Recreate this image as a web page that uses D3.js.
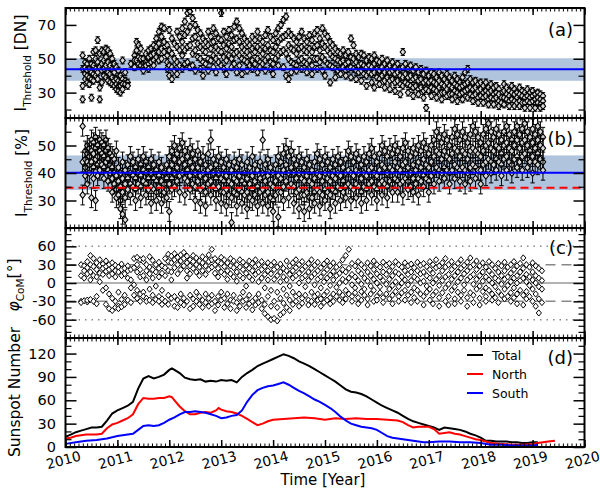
<!DOCTYPE html>
<html><head><meta charset="utf-8">
<script src="https://cdn.jsdelivr.net/npm/d3@7"></script>
<style>body{margin:0;background:#fff} svg{display:block;font-family:"DejaVu Sans",sans-serif}</style>
</head><body><svg id="c" width="600" height="492"></svg>
<script>
// ---------- DATA ----------
const yearLabels = [2010,2011,2012,2013,2014,2015,2016,2017,2018,2019,2020];
const panelNames = ["(a)","(b)","(c)","(d)"];

// (a) I_Threshold [DN]: [time, values...]
const threshDN = [
[2010.33,52,34,26,44],[2010.38,45,41,38,48],[2010.42,47,43,36,40],[2010.46,44,39,50,35],[2010.50,47,42,38,27],
[2010.54,54,46,41,37],[2010.58,50,44,40,55],[2010.62,61,48,42,38],[2010.66,53,45,33,26],[2010.70,55,47,43,36],
[2010.74,54,49,44,40],[2010.78,56,51,46,39],[2010.82,55,48,42,37],[2010.86,53,46,41,36],[2010.90,50,44,39,35],
[2010.94,47,42,37,34],[2010.98,45,38,35,32],[2011.02,43,37,33,31],[2011.06,40,36,34,30],[2011.10,49,38,35,32],
[2011.15,42,37,35],[2011.20,36,34],[2011.26,47],[2011.33,52,49,45],[2011.37,60,55,49],[2011.41,58,51,47],
[2011.45,56,50,46],[2011.50,50,47,45,43],[2011.55,53,48,46],[2011.60,55,51,47,44],[2011.65,56,52,48],
[2011.70,58,53,49,46],[2011.75,62,57,51],[2011.80,66,59,54,49],[2011.85,69,63,56,50],[2011.90,68,60,54],
[2011.96,58,52,48,44],[2012.00,67,55,46,40],[2012.05,62,53,45,38],[2012.10,59,50,43],[2012.15,66,57,48,41],
[2012.20,63,55,46],[2012.25,68,60,52,44],[2012.30,72,64,55,47],[2012.35,77,66,57,48],[2012.40,78,69,58,45],
[2012.45,74,62,53,46],[2012.50,70,63,55,43],[2012.55,67,59,51],[2012.60,65,57,50,44],[2012.65,62,55,48,40],
[2012.70,60,54,47],[2012.75,66,58,50,43],[2012.80,63,56,49],[2012.85,68,60,52,45],[2012.90,65,57,50,42],
[2012.95,62,55,48],[2013.00,77,61,54,46],[2013.05,66,58,51,44],[2013.10,63,56,49,41],[2013.15,67,59,52],
[2013.20,64,57,50,45],[2013.25,69,61,53,47],[2013.30,72,62,54,42],[2013.35,68,60,52,46],[2013.40,65,57,50,41],
[2013.45,62,55,49],[2013.50,60,54,48,43],[2013.55,58,52,46],[2013.60,63,56,49,44],[2013.65,61,54,47],
[2013.70,66,57,50,42],[2013.75,62,55,48,45],[2013.80,60,53,47],[2013.85,64,56,49,43],[2013.90,67,58,51],
[2013.95,63,55,48,44],[2014.00,61,54,47,41],[2014.05,65,57,50],[2014.10,68,60,52,46],[2014.15,70,62,54],
[2014.20,73,63,55,45],[2014.25,75,64,53,40],[2014.30,66,58,50,38],[2014.35,64,56,48,42],[2014.40,62,55,47],
[2014.45,60,53,46,43],[2014.50,63,56,49],[2014.55,66,57,50,44],[2014.60,62,55,48],[2014.65,60,54,47,42],
[2014.70,64,56,49],[2014.75,61,54,46,41],[2014.80,65,57,50],[2014.85,67,58,50,44],[2014.90,62,55,48],
[2014.95,68,59,51,43],[2015.00,65,57,49,40],[2015.05,63,55,47],[2015.10,60,53,46,36],[2015.15,58,51,45],
[2015.20,56,50,44,39],[2015.25,54,49,43],[2015.30,53,48,44,41],[2015.35,55,49,45],[2015.40,52,47,43,40],
[2015.45,54,48,44],[2015.50,62,51,45,39],[2015.55,58,50,44],[2015.60,53,48,43,38],[2015.65,51,46,42],
[2015.70,53,47,43,37],[2015.75,52,46,41],[2015.80,49,45,40,34],[2015.85,51,46,42],[2015.90,50,45,41,36],
[2015.95,52,47,42,33],[2016.00,49,44,39],[2016.05,48,43,38,35],[2016.10,50,45,40],[2016.15,47,42,37,33],
[2016.20,49,44,39],[2016.25,46,42,37,32],[2016.30,48,43,38],[2016.35,45,41,36,31],[2016.40,47,42,37],
[2016.45,44,40,35,29],[2016.50,54,45,39,34],[2016.55,47,41,36],[2016.60,44,39,35,30],[2016.65,46,40,34],
[2016.70,43,38,33,28],[2016.75,45,39,34],[2016.80,42,37,32,29],[2016.85,44,38,33],[2016.90,41,36,31,27],
[2016.95,43,37,32,21],[2017.00,40,36,31],[2017.05,42,37,33,28],[2017.10,41,36,32],[2017.15,39,35,31,27],
[2017.20,42,37,33],[2017.25,40,35,30,26],[2017.30,38,34,30],[2017.35,41,36,32,28],[2017.40,39,34,29],
[2017.45,37,33,29,26],[2017.50,40,35,31],[2017.55,38,34,30,25],[2017.60,36,33,29],[2017.65,39,34,30,26],
[2017.70,42,35,31],[2017.75,44,36,32,27],[2017.80,38,33,29],[2017.85,36,32,28,25],[2017.90,37,33,29],
[2017.95,35,31,27,24],[2018.00,36,32,28],[2018.05,34,30,27,24],[2018.10,36,31,28],[2018.15,33,30,26,23],
[2018.20,35,31,27],[2018.25,33,29,26,23],[2018.30,34,30,27],[2018.35,32,29,25,22],[2018.40,27,24],
[2018.45,35,31,27,23],[2018.50,33,29,26],[2018.55,31,28,25,22],[2018.60,34,30,26],[2018.65,32,29,25,22],
[2018.70,30,27,24],[2018.75,33,29,25,22],[2018.80,31,28,24],[2018.85,30,27,24,21],[2018.90,32,28,25],
[2018.95,30,27,24,21],[2019.00,31,28,25],[2019.05,29,26,23,21],[2019.10,30,27,24],[2019.15,29,26,23,21],
[2019.20,28,25,22]
];
const errDN = 2;
const meanDN = 43.8, bandDN = [37.0, 50.3];

// (b) I_Threshold [%]
const threshPct = [
[2010.33,57,32,44],[2010.38,48,45,42,39],[2010.42,50,47,44,36],[2010.46,49,46,43,40],[2010.50,52,48,44,31],
[2010.54,51,47,42,38],[2010.58,53,49,45,30],[2010.62,50,46,43,39],[2010.66,52,48,44,41],[2010.70,51,47,43],
[2010.74,50,46,42,38],[2010.78,52,48,44],[2010.82,49,45,41,37],[2010.86,47,43,40],[2010.90,46,42,38,33],
[2010.94,45,40,36],[2010.98,48,39,34,31],[2011.02,42,37,32],[2011.06,40,35,30,27],[2011.10,44,38,33,25],
[2011.15,41,36,31,23],[2011.20,43,38,34],[2011.25,46,40,36,32],[2011.30,44,39,35],[2011.35,42,38,34,30],
[2011.40,45,40,36],[2011.45,43,39,35,31],[2011.50,46,41,37],[2011.55,44,40,36,32],[2011.60,42,38,34],
[2011.65,45,40,35,29],[2011.70,43,38,34],[2011.75,41,37,33,30],[2011.80,44,39,35],[2011.85,42,37,32,29],
[2011.90,40,36,33],[2011.95,43,38,34,31],[2012.00,46,41,36,26],[2012.05,48,43,38,34],[2012.10,50,45,40,35],
[2012.15,47,42,37],[2012.20,49,44,39,33],[2012.25,51,45,40],[2012.30,48,43,38,32],[2012.35,46,41,37],
[2012.40,49,44,39,34],[2012.45,47,42,36],[2012.50,45,40,35,30],[2012.55,48,42,37],[2012.60,44,39,34,29],
[2012.65,46,40,35],[2012.70,43,38,33,28],[2012.75,47,41,36],[2012.80,52,42,37,32],[2012.85,45,40,35],
[2012.90,43,38,34,30],[2012.95,46,40,35],[2013.00,44,38,33,29],[2013.05,42,37,33],[2013.10,45,39,34,28],
[2013.15,43,37,32],[2013.20,41,36,31,22],[2013.25,44,38,33],[2013.30,42,37,32,28],[2013.35,45,39,34],
[2013.40,43,37,33,29],[2013.45,40,36,32],[2013.50,44,38,33,27],[2013.55,42,36,31],[2013.60,46,39,34,30],
[2013.65,43,37,32],[2013.70,41,35,31,28],[2013.75,44,38,33],[2013.80,52,40,34,29],[2013.85,43,37,32],
[2013.90,45,39,33,28],[2013.95,42,36,31],[2014.00,40,35,30,26],[2014.05,43,37,32],[2014.10,46,39,33,24],
[2014.15,44,38,33],[2014.20,47,41,35,30],[2014.25,49,43,37],[2014.30,46,40,35,31],[2014.35,48,42,36],
[2014.40,45,40,35,29],[2014.45,43,38,33],[2014.50,46,40,34,27],[2014.55,44,38,32],[2014.60,42,37,32,26],
[2014.65,45,39,33],[2014.70,43,37,31,27],[2014.75,41,36,31],[2014.80,44,38,33,29],[2014.85,47,40,34],
[2014.90,45,39,33,28],[2014.95,43,37,32],[2015.00,46,40,34,30],[2015.05,44,38,33],[2015.10,42,37,32,27],
[2015.15,45,39,34],[2015.20,43,38,33,29],[2015.25,46,40,35],[2015.30,44,39,34,30],[2015.35,42,37,33],
[2015.40,45,40,35,31],[2015.45,48,41,36],[2015.50,46,40,35,30],[2015.55,44,39,34],[2015.60,47,41,36,31],
[2015.65,45,40,35],[2015.70,43,38,33,29],[2015.75,46,40,35],[2015.80,44,39,34,30],[2015.85,47,41,36],
[2015.90,49,42,37,32],[2015.95,46,40,35],[2016.00,44,39,34,30],[2016.05,47,41,36],[2016.10,50,43,37,32],
[2016.15,48,42,36],[2016.20,46,40,35,31],[2016.25,49,42,37],[2016.30,47,41,36,33],[2016.35,50,44,38],
[2016.40,48,42,37,33],[2016.45,46,41,36],[2016.50,49,43,37,32],[2016.55,51,44,38],[2016.60,48,42,37,34],
[2016.65,46,40,35],[2016.70,49,43,38,33],[2016.75,47,41,36],[2016.80,50,44,38,32],[2016.85,48,42,37],
[2016.90,51,45,39,35],[2016.95,49,43,38],[2017.00,47,42,37,33],[2017.05,50,44,39],[2017.10,52,46,40,36],
[2017.15,55,48,42],[2017.20,53,47,41,37],[2017.25,51,45,40],[2017.30,54,48,42,38],[2017.35,52,46,41],
[2017.40,50,45,40,36],[2017.45,53,47,41],[2017.50,56,49,43,38],[2017.55,54,48,42],[2017.60,52,46,41,37],
[2017.65,55,48,42],[2017.70,53,47,41,36],[2017.75,51,45,40],[2017.80,54,48,42,37],[2017.85,57,49,43],
[2017.90,55,48,42,38],[2017.95,53,47,41],[2018.00,51,46,41,36],[2018.05,54,48,43],[2018.10,56,50,44,39],
[2018.15,58,51,45],[2018.20,55,49,44,40],[2018.25,53,48,43],[2018.30,56,50,45,41],[2018.35,54,49,44],
[2018.40,52,47,43,39],[2018.45,55,50,45],[2018.50,57,51,46,41],[2018.55,54,49,44],[2018.60,52,48,43,40],
[2018.65,55,50,45],[2018.70,57,52,46,42],[2018.75,54,49,44],[2018.80,56,51,46,41],[2018.85,58,52,47],
[2018.90,55,50,45,42],[2018.95,53,48,44],[2019.00,56,51,46,40],[2019.05,54,49,44],[2019.10,57,52,47,43],
[2019.15,55,50,45],[2019.20,53,49,44,41]
];
const errPct = 3.6;
const meanPct = 40.1, bandPct = [33.8, 46.4], refPct = 34.6;

// (c) phi_CoM [deg]
const phiCoM = [
[2010.30,30,12,-30,-32],[2010.36,28,20,8,-29],[2010.42,35,25,15,-31,-28],[2010.48,45,30,18,5,-27],[2010.54,40,27,12,-30],
[2010.60,33,22,10,-22,-34],[2010.66,38,29,16,2],[2010.72,31,24,14,-12],[2010.78,36,27,19,-8,-35],[2010.84,30,22,12,-18,-42],
[2010.90,33,25,15,-25,-45],[2010.96,29,20,10,-30,-40],[2011.02,26,18,-15,-38,-42],[2011.08,31,22,12,-27,-39],[2011.14,24,15,-20,-35],
[2011.20,28,20,8,-28],[2011.26,22,5,-8,-32],[2011.32,40,25,-3,-20],[2011.38,42,30,18,-12,-25],[2011.44,38,22,10,-18,-30],
[2011.50,35,40,12,-15,-22],[2011.56,30,20,5,-25,-30],[2011.62,43,26,15,-10,-28],[2011.68,37,22,8,-20,-32],[2011.74,30,18,-5,-27],
[2011.80,34,24,10,-22,-30],[2011.86,28,16,-12,-26,-35],[2011.92,40,25,12,-30],[2011.98,47,35,20,-20,-35],[2012.04,44,33,18,5,-25],
[2012.10,48,38,25,-22,-38],[2012.16,42,30,15,-28,-40],[2012.22,46,36,22,-18,-32],[2012.28,50,40,28,-25,-36],[2012.34,44,33,20,8,-30],
[2012.40,38,28,15,-20,-42],[2012.46,45,35,24,-26,-38],[2012.52,41,30,18,-15,-30],[2012.58,36,26,12,-22,-35],[2012.64,43,33,20,-28,-40],
[2012.70,39,28,14,-18,-32],[2012.76,46,35,22,-25,-38],[2012.82,55,38,26,-20,-34],[2012.88,40,30,16,-30,-45],[2012.94,35,24,10,-22,-36],
[2013.00,42,32,18,-15,-28],[2013.06,38,27,14,-25,-40],[2013.12,33,20,6,-18,-34],[2013.18,40,28,15,-28,-42],[2013.24,36,25,10,-20,-30],
[2013.30,30,18,3,-32,-45],[2013.36,38,26,12,-24,-38],[2013.42,34,22,8,-15,-30],[2013.48,29,16,-5,-27,-40],[2013.54,36,24,10,-20,-34],
[2013.60,32,20,5,-30,-44],[2013.66,38,27,14,-25,-36],[2013.72,30,18,2,-18,-32],[2013.78,35,22,8,-28,-42],[2013.84,27,14,-8,-35,-50],
[2013.90,33,20,5,-22,-55],[2013.96,29,15,-12,-38,-60],[2014.02,34,22,6,-30,-58],[2014.08,26,12,-15,-40,-62],[2014.14,31,18,2,-25,-52],
[2014.20,24,10,-10,-33,-48],[2014.26,36,20,5,-20,-40],[2014.32,28,14,-5,-28,-45],[2014.38,33,20,8,-15,-35],[2014.44,38,25,12,-22,-30],
[2014.50,30,16,0,-18,-38],[2014.56,35,22,8,-25,-33],[2014.62,27,12,-6,-20],[2014.68,32,18,4,-28,-36],[2014.74,38,24,10,-15,-30],
[2014.80,29,15,-3,-22,-35],[2014.86,34,20,6,-18,-28],[2014.92,25,10,-8,-26,-38],[2014.98,31,17,2,-20,-32],[2015.04,36,22,8,-14,-28],
[2015.10,28,13,-4,-24,-34],[2015.16,33,19,5,-18,-30],[2015.22,26,12,-7,-22],[2015.28,30,16,0,-15,-28],[2015.34,38,22,6,-20,-32],
[2015.40,45,18,2,-12,-26],[2015.46,55,24,8,-18],[2015.52,32,14,-3,-22,-30],[2015.58,28,10,-8,-16],[2015.64,35,20,4,-24,-34],
[2015.70,30,15,-2,-14,-28],[2015.76,25,8,-10,-20],[2015.82,33,18,3,-26,-36],[2015.88,28,12,-5,-18],[2015.94,36,22,6,-12,-30],
[2016.00,30,15,0,-22,-28],[2016.06,26,10,-6,-16],[2016.12,34,18,4,-24,-32],[2016.18,29,14,-2,-18],[2016.24,32,20,6,-10,-26],
[2016.30,27,12,-4,-20,-34],[2016.36,35,18,2,-14],[2016.42,30,15,-6,-22,-30],[2016.48,26,10,0,-16],[2016.54,33,20,5,-12,-28],
[2016.60,28,14,-3,-20],[2016.66,31,18,4,-15,-32],[2016.72,25,10,-8,-24],[2016.78,34,20,6,-12,-30],[2016.84,29,15,0,-18],
[2016.90,32,18,3,-22,-36],[2016.96,27,12,-5,-15],[2017.02,35,22,8,-10,-28],[2017.08,30,16,0,-20,-34],[2017.14,38,25,6,-14],
[2017.20,28,12,-4,-24,-38],[2017.26,33,20,4,-16],[2017.32,40,26,10,-8,-30],[2017.38,30,14,-2,-22,-36],[2017.44,35,22,6,-12],
[2017.50,27,12,-6,-26,-34],[2017.56,32,18,2,-15],[2017.62,38,24,8,-20,-30],[2017.68,29,15,-3,-12],[2017.74,34,20,5,-24,-38],
[2017.80,41,26,10,-16],[2017.86,30,14,-2,-20,-32],[2017.92,36,22,6,-10],[2017.98,28,12,-5,-25,-36],[2018.04,33,18,3,-14],
[2018.10,26,10,-8,-22,-30],[2018.16,35,20,5,-12],[2018.22,30,14,0,-18,-28],[2018.28,24,8,-6,-24],[2018.34,32,18,4,-14,-32],
[2018.40,28,12,-2,-20],[2018.46,34,20,6,-10,-26],[2018.52,26,10,-4,-22],[2018.58,30,16,2,-16,-30],[2018.64,35,22,8,-8,-24],
[2018.70,28,12,0,-18,-34],[2018.76,32,18,4,-12],[2018.82,41,24,8,-20,-36],[2018.88,30,14,2,-14,-26],[2018.94,26,10,-4,-22],
[2019.00,33,18,5,-10,-30],[2019.06,28,12,0,-18,-38],[2019.12,24,8,-6,-26,-49],[2019.18,20,4,-10,-32]
];
const phiRefLines = {dotted:[-60,60], dashed:[-30,30], solid:[0]};

// (d) Sunspot numbers [time, value]
const ssnTotal = [[2010.0,13],[2010.1,16],[2010.2,19],[2010.3,21],[2010.4,23],[2010.5,25],[2010.6,25],[2010.7,26],[2010.8,34],[2010.9,43],
[2011.0,47],[2011.1,50],[2011.2,53],[2011.3,58],[2011.4,75],[2011.5,88],[2011.6,91],[2011.7,88],[2011.8,90],[2011.9,93],[2012.0,99],[2012.05,101],
[2012.1,99],[2012.2,95],[2012.3,89],[2012.4,87],[2012.5,86],[2012.6,87],[2012.7,84],[2012.8,85],[2012.9,84],[2013.0,86],[2013.1,85],[2013.2,86],
[2013.3,83],[2013.4,90],[2013.5,95],[2013.6,99],[2013.7,104],[2013.8,107],[2013.9,110],[2014.0,113],[2014.1,116],[2014.2,119],[2014.3,117],
[2014.4,114],[2014.5,110],[2014.6,107],[2014.7,104],[2014.8,100],[2014.9,96],[2015.0,92],[2015.1,88],[2015.2,84],[2015.3,79],[2015.4,74],
[2015.5,71],[2015.6,70],[2015.7,68],[2015.8,65],[2015.9,61],[2016.0,57],[2016.1,53],[2016.2,50],[2016.3,47],[2016.4,44],[2016.5,40],
[2016.6,36],[2016.7,33],[2016.8,31],[2016.9,29],[2017.0,27],[2017.1,25],[2017.2,22],[2017.3,25],[2017.4,24],[2017.5,23],[2017.6,22],
[2017.7,20],[2017.8,17],[2017.9,15],[2018.0,12],[2018.1,8],[2018.2,8],[2018.3,7],[2018.4,7],[2018.5,7],[2018.6,6],[2018.7,6],[2018.8,5],
[2018.9,5],[2019.0,6],[2019.1,6]];
const ssnNorth = [[2010.0,11],[2010.1,12],[2010.2,14],[2010.3,15],[2010.4,16],[2010.5,16],[2010.6,16],[2010.7,17],[2010.8,24],[2010.9,29],
[2011.0,31],[2011.1,34],[2011.2,37],[2011.3,42],[2011.4,55],[2011.5,63],[2011.6,62],[2011.7,62],[2011.8,63],[2011.9,63],[2012.0,65],[2012.05,64],
[2012.1,60],[2012.2,52],[2012.3,46],[2012.4,42],[2012.5,42],[2012.6,44],[2012.7,45],[2012.8,44],[2012.9,47],[2012.95,50],[2013.0,48],[2013.1,46],
[2013.2,45],[2013.3,43],[2013.4,40],[2013.5,36],[2013.6,32],[2013.7,28],[2013.8,30],[2013.9,33],[2014.0,35],[2014.2,36],[2014.4,37],[2014.6,38],
[2014.8,37],[2015.0,35],[2015.2,37],[2015.4,36],[2015.6,37],[2015.8,36],[2016.0,36],[2016.2,35],[2016.4,34],[2016.5,32],[2016.6,28],[2016.7,25],
[2016.8,26],[2017.0,26],[2017.1,23],[2017.2,17],[2017.3,18],[2017.4,19],[2017.5,17],[2017.6,16],[2017.7,14],[2017.8,12],[2017.9,10],[2018.0,9],
[2018.1,7],[2018.2,5],[2018.4,4],[2018.6,3],[2018.8,3],[2019.0,4],[2019.1,5],[2019.2,6],[2019.3,7],[2019.43,8]];
const ssnSouth = [[2010.0,4],[2010.2,6],[2010.4,8],[2010.6,9],[2010.8,11],[2011.0,14],[2011.2,16],[2011.3,17],[2011.4,22],[2011.5,27],[2011.6,28],
[2011.7,27],[2011.8,28],[2011.9,31],[2012.0,35],[2012.1,38],[2012.2,42],[2012.3,45],[2012.4,45],[2012.5,46],[2012.6,45],[2012.7,44],[2012.8,42],
[2012.9,40],[2013.0,37],[2013.1,38],[2013.2,40],[2013.3,41],[2013.4,47],[2013.5,58],[2013.6,67],[2013.7,73],[2013.8,76],[2013.9,78],[2014.0,79],
[2014.1,81],[2014.2,83],[2014.3,80],[2014.4,76],[2014.5,72],[2014.6,69],[2014.7,65],[2014.8,61],[2014.9,58],[2015.0,54],[2015.1,50],[2015.2,45],
[2015.3,39],[2015.4,34],[2015.5,30],[2015.6,28],[2015.7,26],[2015.8,25],[2015.9,24],[2016.0,22],[2016.1,18],[2016.2,14],[2016.3,12],[2016.4,11],
[2016.5,10],[2016.6,9],[2016.7,8],[2016.8,7],[2016.9,6],[2017.0,6],[2017.2,7],[2017.4,7],[2017.6,6],[2017.8,6],[2018.0,5],[2018.2,3],[2018.4,3],
[2018.6,2],[2018.8,2],[2019.0,2],[2019.1,3]];
const legendNames = ["Total","North","South"];
const legendColors = ["#000000","#ff0000","#0000ff"];

// ---------- LAYOUT ----------
const svg = d3.select("#c");
const X0 = 65.5, X1 = 584.5;
const x = d3.scaleLinear().domain([2010,2020]).range([X0,X1]);
const panels = [
 {top:8,   bot:118, dom:[15,80],  major:[30,50,70], minor:[20,40,60,80]},
 {top:118, bot:228, dom:[20,60],  major:[30,40,50], minor:[20,25,35,45,55,60]},
 {top:228, bot:338, dom:[-90,90], major:[-60,-30,0,30,60], minor:[-90,-80,-70,-50,-40,-20,-10,10,20,40,50,70,80,90]},
 {top:338, bot:447, dom:[0,140],  major:[0,30,60,90,120], minor:[10,20,40,50,70,80,100,110,130,140]}
];
panels.forEach(p => p.y = d3.scaleLinear().domain(p.dom).range([p.bot, p.top]));
const [pa,pb,pc,pd] = panels;

const defs = svg.append("defs");
panels.forEach((p,i) => defs.append("clipPath").attr("id","clip"+i)
  .append("rect").attr("x",X0).attr("y",p.top).attr("width",X1-X0).attr("height",p.bot-p.top));

function diamond(cx, cy, hw, hh){ return `M${cx},${cy-hh}L${cx+hw},${cy}L${cx},${cy+hh}L${cx-hw},${cy}Z`; }
const flat = rows => rows.flatMap(r => r.slice(1).map(v => ({t:r[0], v})));

// ---------- (a) & (b) ----------
function errPanel(p, idx, rows, err, mean, band, ref){
  const g = svg.append("g").attr("clip-path",`url(#clip${idx})`);
  g.append("rect").attr("x",X0).attr("width",X1-X0)
   .attr("y",p.y(band[1])).attr("height",p.y(band[0])-p.y(band[1])).attr("fill","#b0c4de");
  const pts = flat(rows);
  const pg = g.append("g");
  pts.forEach(d => {
    const cx = x(d.t), cy = p.y(d.v), y1 = p.y(d.v+err), y2 = p.y(d.v-err);
    pg.append("path").attr("d",`M${cx},${y1}V${y2}M${cx-2.2},${y1}H${cx+2.2}M${cx-2.2},${y2}H${cx+2.2}`)
      .attr("stroke","#000").attr("stroke-width",1).attr("fill","none");
    pg.append("path").attr("d",diamond(cx,cy,2.7,3.3)).attr("fill","#d8d8d8").attr("stroke","#000").attr("stroke-width",1.1);
  });
  g.append("line").attr("x1",X0).attr("x2",X1).attr("y1",p.y(mean)).attr("y2",p.y(mean))
   .attr("stroke","#0000ff").attr("stroke-width",2);
  if (ref!=null) g.append("line").attr("x1",X0).attr("x2",X1).attr("y1",p.y(ref)).attr("y2",p.y(ref))
   .attr("stroke","#ff0000").attr("stroke-width",2).attr("stroke-dasharray","8,5");
}
errPanel(pa,0,threshDN,errDN,meanDN,bandDN,null);
errPanel(pb,1,threshPct,errPct,meanPct,bandPct,refPct);

// ---------- (c) ----------
{
  const g = svg.append("g").attr("clip-path","url(#clip2)");
  phiRefLines.dotted.forEach(v => g.append("line").attr("x1",X0).attr("x2",X1).attr("y1",pc.y(v)).attr("y2",pc.y(v))
    .attr("stroke","#888").attr("stroke-width",1.5).attr("stroke-dasharray","1.5,5"));
  phiRefLines.dashed.forEach(v => g.append("line").attr("x1",X0).attr("x2",X1).attr("y1",pc.y(v)).attr("y2",pc.y(v))
    .attr("stroke","#888").attr("stroke-width",1.5).attr("stroke-dasharray","10,6"));
  phiRefLines.solid.forEach(v => g.append("line").attr("x1",X0).attr("x2",X1).attr("y1",pc.y(v)).attr("y2",pc.y(v))
    .attr("stroke","#999").attr("stroke-width",1.5));
  flat(phiCoM).forEach(d => g.append("path").attr("d",diamond(x(d.t),pc.y(d.v),2.6,3.1))
    .attr("fill","#fff").attr("stroke","#000").attr("stroke-width",1));
}

// ---------- (d) ----------
{
  const g = svg.append("g").attr("clip-path","url(#clip3)");
  const line = d3.line().x(d=>x(d[0])).y(d=>pd.y(d[1]));
  [ssnTotal, ssnNorth, ssnSouth].forEach((s,i) => g.append("path").attr("d",line(s))
     .attr("fill","none").attr("stroke",legendColors[i]).attr("stroke-width",2));
  legendNames.forEach((n,i) => {
    const ly = 355 + i*19;
    svg.append("line").attr("x1",467).attr("x2",483).attr("y1",ly).attr("y2",ly).attr("stroke",legendColors[i]).attr("stroke-width",2);
    svg.append("text").attr("x",492).attr("y",ly+4.5).attr("font-size",12.5).text(n);
  });
}

// ---------- axes / frames ----------
const monthTicks = d3.range(0,121).map(i => 2010 + i/12);
panels.forEach((p,i) => {
  const xt = (ax, yy, vals, len, w) => {
    const a = svg.append("g").attr("transform",`translate(0,${yy})`)
      .call(ax(x).tickValues(vals).tickSize(-len).tickFormat(""));
    a.select(".domain").remove(); a.selectAll("line").attr("stroke-width",w);
  };
  xt(d3.axisTop, p.top, monthTicks, 3.5, 1); xt(d3.axisBottom, p.bot, monthTicks, 3.5, 1);
  xt(d3.axisTop, p.top, yearLabels, 7, 1.5); xt(d3.axisBottom, p.bot, yearLabels, 7, 1.5);
  const yt = (ax, xx, vals, len, w, lab) => {
    const a = svg.append("g").attr("transform",`translate(${xx},0)`)
      .call(ax(p.y).tickValues(vals).tickSize(-len).tickPadding(lab?9.5:0).tickFormat(lab? d=>String(d) : ""));
    a.select(".domain").remove(); a.selectAll("line").attr("stroke-width",w);
    a.selectAll("text").attr("font-size",14.5).attr("font-family","DejaVu Sans").attr("fill","#000");
  };
  yt(d3.axisLeft, X0, p.minor, 6, 1.2, false); yt(d3.axisLeft, X0, p.major, 11, 1.5, true);
  yt(d3.axisRight, X1, p.minor, 6, 1.2, false); yt(d3.axisRight, X1, p.major, 11, 1.5, false);
  svg.append("rect").attr("x",X0).attr("y",p.top).attr("width",X1-X0).attr("height",p.bot-p.top)
    .attr("fill","none").attr("stroke","#000").attr("stroke-width",2);
  svg.append("text").attr("x",573).attr("y",[36,145,254,364][i]).attr("text-anchor","end")
    .attr("font-size",18).text(panelNames[i]);
});

// x tick labels (bottom)
yearLabels.forEach(yv => {
  svg.append("text").attr("transform",`translate(${x(yv)-2},460) rotate(-15)`)
    .attr("text-anchor","middle").attr("dy","0.35em").attr("font-size",13.8).text(yv);
});
svg.append("text").attr("x",323).attr("y",485).attr("text-anchor","middle").attr("font-size",15).text("Time [Year]");

// y titles
function ytitle(cx, cy, parts){
  const t = svg.append("text").attr("transform",`translate(${cx},${cy}) rotate(-90)`).attr("text-anchor","middle").attr("font-size",15.5);
  parts.forEach(pp => { const s = t.append("tspan").text(pp.t);
    if (pp.dy) s.attr("dy",pp.dy); if (pp.fs) s.attr("font-size",pp.fs); if (pp.it) s.attr("font-style","italic"); });
}
ytitle(26, 63, [{t:"I"},{t:"Threshold",dy:5,fs:10.5},{t:" [DN]",dy:-5}]);
ytitle(27, 173, [{t:"I"},{t:"Threshold",dy:5,fs:10.5},{t:" [%]",dy:-5}]);
ytitle(19, 285, [{t:"φ",it:true},{t:"CoM",dy:5,fs:10.5},{t:"[°]",dy:-5}]);
ytitle(20, 392, [{t:"Sunspot Number"}]);
</script></body></html>
